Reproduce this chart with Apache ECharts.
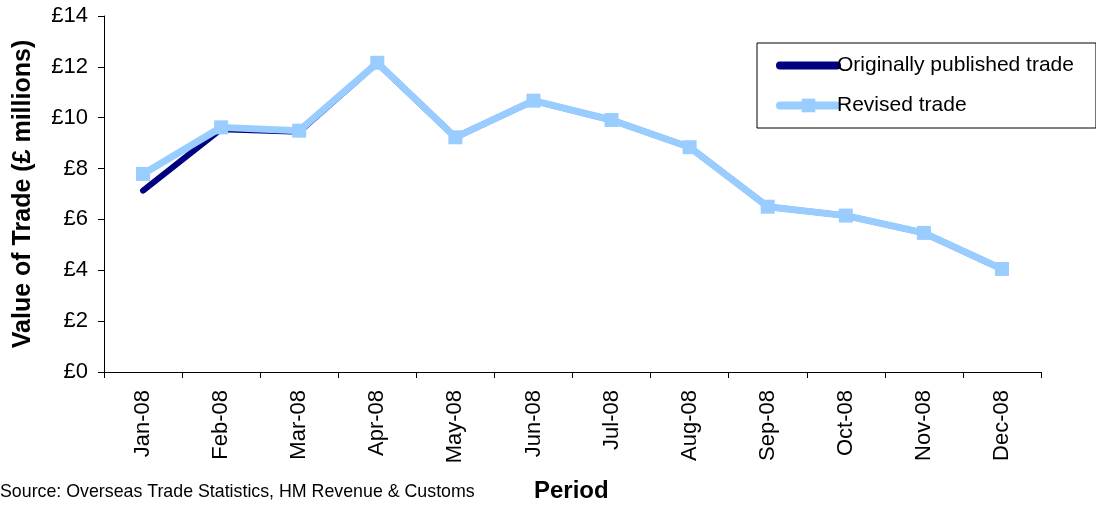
<!DOCTYPE html>
<html>
<head>
<meta charset="utf-8">
<script src="https://cdn.jsdelivr.net/npm/echarts@6/dist/echarts.min.js"></script>
<style>
  html, body { margin: 0; padding: 0; background: #fff; }
  #chart { width: 1096px; height: 509px; }
</style>
</head>
<body>
<div id="chart"></div>
<script>
// months (x axis)
const months = ['Jan-08', 'Feb-08', 'Mar-08', 'Apr-08', 'May-08', 'Jun-08',
  'Jul-08', 'Aug-08', 'Sep-08', 'Oct-08', 'Nov-08', 'Dec-08'];

// £ millions
const originalTrade = [7.13, 9.55, 9.45, 12.15, 9.23, 10.67, 9.91, 8.84, 6.5, 6.15, 5.47, 4.05];
const revisedTrade = [7.79, 9.62, 9.49, 12.16, 9.23, 10.67, 9.91, 8.84, 6.5, 6.15, 5.47, 4.05];

const yTicks = { min: 0, max: 14, interval: 2 };

const font = 'Liberation Sans, Arial, sans-serif';

const chart = echarts.init(document.getElementById('chart'));

chart.setOption({
  animation: false,
  backgroundColor: '#fff',
  textStyle: { fontFamily: font },
  grid: { left: 104, right: 55, top: 16, bottom: 137, containLabel: false },
  legend: {
    orient: 'vertical',
    left: 757,
    top: 43,
    padding: [12, 22, 12, 19],
    itemGap: 19,
    itemWidth: 57,
    itemHeight: 17,
    borderColor: '#000',
    borderWidth: 1,
    lineStyle: { width: 8, cap: 'round' },
    textStyle: { fontFamily: font, fontSize: 21, color: '#000', padding: [0, 0, 0, -5] },
    data: [
      // hide the circle the legend adds for a series without symbols
      { name: 'Originally published trade', itemStyle: { opacity: 0 } },
      { name: 'Revised trade' }
    ]
  },
  xAxis: {
    type: 'category',
    data: months,
    boundaryGap: true,
    axisLine: { lineStyle: { color: '#000', width: 1 } },
    axisTick: { show: true, length: 6, lineStyle: { color: '#000' } },
    axisLabel: { rotate: 90, color: '#000', fontSize: 22, fontFamily: font, margin: 18 },
    splitLine: { show: false }
  },
  yAxis: {
    type: 'value',
    min: yTicks.min,
    max: yTicks.max,
    interval: yTicks.interval,
    name: 'Value of Trade (£ millions)',
    nameLocation: 'middle',
    nameGap: 68,
    nameTextStyle: { fontFamily: font, fontSize: 25, fontWeight: 'bold', color: '#000' },
    axisLine: { show: true, lineStyle: { color: '#000', width: 1 } },
    axisTick: { show: true, length: 6, lineStyle: { color: '#000' } },
    axisLabel: { color: '#000', fontSize: 22, fontFamily: font, margin: 16, formatter: '£{value}' },
    splitLine: { show: false }
  },
  graphic: [
    {
      type: 'text',
      left: 0,
      top: 483,
      style: { text: 'Source: Overseas Trade Statistics, HM Revenue & Customs', font: '17.8px ' + font, fill: '#000' }
    },
    {
      type: 'text',
      left: 534,
      top: 479,
      style: { text: 'Period', font: 'bold 24px ' + font, fill: '#000' }
    }
  ],
  series: [
    {
      name: 'Originally published trade',
      type: 'line',
      data: originalTrade,
      symbol: 'none',
      lineStyle: { color: '#000080', width: 6, cap: 'round', join: 'round' },
      itemStyle: { color: '#000080' },
      z: 2
    },
    {
      name: 'Revised trade',
      type: 'line',
      data: revisedTrade,
      symbol: 'rect',
      symbolSize: 14,
      lineStyle: { color: '#99CCFF', width: 7, join: 'round' },
      itemStyle: { color: '#99CCFF' },
      z: 3
    }
  ]
});
</script>
</body>
</html>
